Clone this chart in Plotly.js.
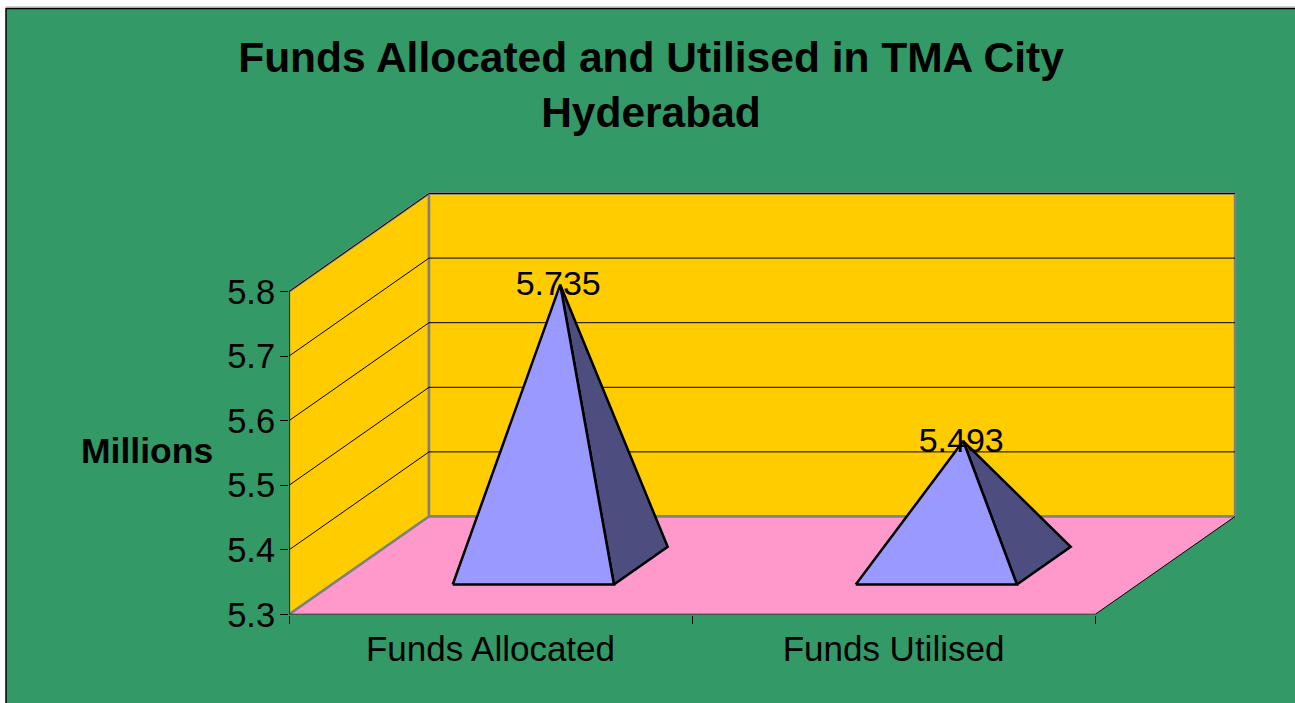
<!DOCTYPE html>
<html>
<head>
<meta charset="utf-8">
<script src="https://cdn.plot.ly/plotly-3.0.1.min.js"></script>
<style>html,body{margin:0;padding:0;background:#fff;overflow:hidden}#chart{width:1295px;height:703px}</style>
</head>
<body>
<div id="chart"></div>
<script>
var categories = ['Funds Allocated', 'Funds Utilised'];
var values = [5.735, 5.493];
var valueLabels = ['5.735', '5.493'];
var yTicks = [5.3, 5.4, 5.5, 5.6, 5.7, 5.8];
var chartTitle = 'Funds Allocated and Utilised in TMA City<br>Hyderabad';
var yLabel = 'Millions';

var W = 1295, H = 703;
var plotLeft = 289, plotRight = 1240, plotBottom = 614.5, plotTop = 187.5;
var unitX = 403, unitY = 646;
var depthX = 140 / unitX, depthY = 98 / unitY;
var yMin = yTicks[0], yMax = yTicks[yTicks.length - 1];
var nCat = categories.length;
var halfWidth = 0.2, baseDepthFront = 0.306, baseDepthBack = 0.69;
var font = '"Liberation Sans", Arial, sans-serif';

function proj(x, v, d) { return [x + d * depthX, v + d * depthY]; }
function polyTrace(points, fill, lineColor, lineWidth) {
  return { type: 'scatter', mode: 'lines', x: points.map(function (p) { return p[0]; }),
    y: points.map(function (p) { return p[1]; }), fill: fill ? 'toself' : 'none', fillcolor: fill || undefined,
    line: { color: lineColor, width: lineWidth, simplify: false }, hoverinfo: 'skip', showlegend: false, cliponaxis: false };
}

var traces = [];
// walls and floor
traces.push(polyTrace([proj(0, yMin, 0), proj(0, yMin, 1), proj(0, yMax, 1), proj(0, yMax, 0), proj(0, yMin, 0)], '#FFCC00', '#808080', 2.5));
traces.push(polyTrace([proj(0, yMin, 1), proj(nCat, yMin, 1), proj(nCat, yMax, 1), proj(0, yMax, 1), proj(0, yMin, 1)], '#FFCC00', '#808080', 2.5));
traces.push(polyTrace([proj(0, yMin, 0), proj(nCat, yMin, 0), proj(nCat, yMin, 1), proj(0, yMin, 1), proj(0, yMin, 0)], '#FF99CC', 'rgba(0,0,0,0)', 0));
// gridlines
yTicks.slice(1).forEach(function (t) {
  traces.push(polyTrace([proj(0, t, 0), proj(0, t, 1), proj(nCat, t, 1)], null, '#000000', 1));
});
// edges of the floor and axis lines
traces.push(polyTrace([proj(0, yMin, 0), proj(0, yMin, 1)], null, '#808080', 2.5));
traces.push(polyTrace([proj(0, yMin, 1), proj(nCat, yMin, 1)], null, '#808080', 2.5));
traces.push(polyTrace([proj(nCat, yMin, 0), proj(nCat, yMin, 1)], null, '#000000', 1));
traces.push(polyTrace([proj(0, yMin, 0), proj(nCat, yMin, 0)], null, '#1a1a1a', 1.5));
traces.push(polyTrace([proj(0, yMin, 0), proj(0, yMax, 0)], null, '#1a1a1a', 1.5));
// pyramids
var mid = (baseDepthFront + baseDepthBack) / 2;
values.forEach(function (v, i) {
  var c = i + 0.5;
  var apex = proj(c, v, mid);
  var fl = proj(c - halfWidth, yMin, baseDepthFront);
  var fr = proj(c + halfWidth, yMin, baseDepthFront);
  var br = proj(c + halfWidth, yMin, baseDepthBack);
  traces.push(polyTrace([fr, br, apex, fr], '#4D4D80', '#000000', 2.5));
  traces.push(polyTrace([fl, fr, apex, fl], '#9999FF', '#000000', 2.5));
});
// value labels
traces.push({ type: 'scatter', mode: 'text',
  x: values.map(function (v, i) { return proj(i + 0.5, v, mid)[0] - 0.005; }),
  y: values.map(function (v, i) { return proj(i + 0.5, v, mid)[1] - 2 / unitY; }),
  text: valueLabels, textposition: 'middle center',
  textfont: { family: font, size: 34, color: '#000' },
  hoverinfo: 'skip', showlegend: false, cliponaxis: false });

var layout = {
  width: W, height: H, margin: { l: 0, r: 0, t: 0, b: 0 }, paper_bgcolor: '#ffffff', plot_bgcolor: 'rgba(0,0,0,0)',
  showlegend: false,
  title: { text: chartTitle, x: 651 / W, xanchor: 'center', xref: 'paper', y: 1 - 72 / H, yanchor: 'top',
    font: { family: font, size: 42.5, color: '#000', weight: 700 } },
  xaxis: { domain: [plotLeft / W, plotRight / W], range: [0, (plotRight - plotLeft) / unitX], showgrid: false, zeroline: false, showline: false,
    tickmode: 'array', tickvals: categories.map(function (c, i) { return i + 0.5; }), ticktext: categories, ticks: 'outside', ticklen: 0, tickcolor: 'rgba(0,0,0,0)',
    ticklabelstandoff: 3,
    tickfont: { family: font, size: 35, color: '#000' },
    minor: { tickmode: 'array', tickvals: [0, 1, 2], ticks: 'outside', ticklen: 8, tickwidth: 1, tickcolor: '#000', showgrid: false },
    fixedrange: true },
  yaxis: { domain: [(H - plotBottom) / H, (H - plotTop) / H], range: [yMin, yMin + (plotBottom - plotTop) / unitY], showgrid: false, zeroline: false, showline: false,
    tickmode: 'array', tickvals: yTicks, ticktext: yTicks.map(function (t) { return t.toFixed(1); }), ticks: 'outside', ticklen: 8, tickwidth: 1, tickcolor: '#000',
    ticklabelstandoff: -2,
    tickfont: { family: font, size: 34.5, color: '#000' }, fixedrange: true },
  annotations: [{ text: '<b>' + yLabel + '</b>', xref: 'paper', yref: 'paper', x: 147 / W, y: (H - 451) / H, xanchor: 'center', yanchor: 'middle', showarrow: false,
    font: { family: font, size: 35.5, color: '#000' } }],
  shapes: [
    { type: 'rect', layer: 'below', xref: 'paper', yref: 'paper', x0: 6 / W, x1: 1.01, y0: -0.01, y1: (H - 8.5) / H, fillcolor: '#339966', line: { color: '#000', width: 1.5 } },
    { type: 'line', layer: 'below', xref: 'paper', yref: 'paper', x0: 6 / W, x1: 1, y0: (H - 7) / H, y1: (H - 7) / H, line: { color: '#a0a0a0', width: 1 } }
  ]
};
Plotly.newPlot('chart', traces, layout, { displayModeBar: false, staticPlot: true });
</script>
</body>
</html>
